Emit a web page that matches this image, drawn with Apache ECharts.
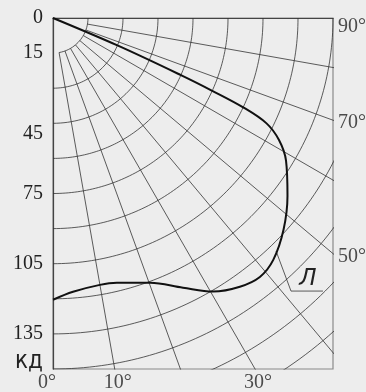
<!DOCTYPE html>
<html>
<head>
<meta charset="utf-8">
<script src="https://cdn.jsdelivr.net/npm/echarts@6/dist/echarts.min.js"></script>
<style>
html, body { margin: 0; padding: 0; background: #ededed; }
#chartDom { width: 366px; height: 392px; }
</style>
</head>
<body>
<div id="chartDom"></div>
<script>
// кривая силы света: угол от вертикали (град) и сила света (кд)
const curveAngles = [68, 67, 66, 65.5, 64.9, 63.8, 61.7, 58.6, 52.9, 47.5, 42.4, 38.7, 34.9, 30.4, 25.8, 20.2, 13.6, 10, 4.2, 0];
const curveValues = [0, 30, 60, 75, 90, 102, 110, 117, 126, 134, 140, 141.8, 140, 135.5, 128, 120.5, 116.4, 115.8, 117.3, 120.4];

// полярная сетка
const circleRadii = [15, 30, 45, 60, 75, 90, 105, 120, 135, 150, 165, 180];
const rayAngles = [10, 20, 30, 40, 50, 60, 70, 80];

// подписи
const yTickLabels = { 0: '0', 15: '15', 45: '45', 75: '75', 105: '105', 135: '135', 150: 'кд' };
const bottomAngles = [0, 10, 30];
const rightAngles = [50, 70, 90];

// выноска "Л"
const leaderX = [95.6, 102, 115.7];
const leaderY = [99.6, 116.7, 116.7];

const X_MAX = 120, Y_MAX = 150;
const rad = (a) => a * Math.PI / 180;
const toXY = (a, r) => [r * Math.sin(rad(a)), r * Math.cos(rad(a))];

const thin = { color: '#333', width: 0.8 };
const serif = 'Liberation Serif';
const fs = 20;

let series = [];

// окружности
circleRadii.forEach((r) => {
  const pts = [];
  const start = r === 15 ? 10 : 0;
  for (let a = start; a <= 90; a += 1) pts.push(toXY(a, r));
  series.push({ type: 'line', data: pts, showSymbol: false, silent: true, clip: true, lineStyle: thin });
});

// лучи
rayAngles.forEach((a) => {
  series.push({ type: 'line', data: [toXY(a, 15), toXY(a, 200)], showSymbol: false, silent: true, clip: true, lineStyle: thin });
});

// кривая
series.push({
  type: 'line',
  data: curveAngles.map((a, i) => toXY(a, curveValues[i])),
  showSymbol: false,
  smooth: 0.35,
  silent: true,
  lineStyle: { color: '#111', width: 2 },
  z: 5
});

// выноска
series.push({
  type: 'line',
  data: leaderX.map((x, i) => {
    const item = { value: [x, leaderY[i]] };
    if (i === leaderX.length - 1) {
      item.label = {
        show: true, position: 'top', offset: [-15, 4], formatter: 'Л',
        fontFamily: 'DejaVu Sans', fontStyle: 'italic', fontSize: 23, color: '#222'
      };
    }
    return item;
  }),
  showSymbol: true,
  symbolSize: 0,
  silent: true,
  lineStyle: { color: '#333', width: 0.8 }
});

// подписи углов снизу
series.push({
  type: 'scatter',
  symbolSize: 0,
  clip: false,
  silent: true,
  data: bottomAngles.map((a) => ({
    value: [Y_MAX * Math.tan(rad(a)), Y_MAX],
    label: { offset: [a === 0 ? -6 : 3, 0] }
  })),
  label: {
    show: true, position: 'bottom', distance: 4,
    formatter: (p) => bottomAngles[p.dataIndex] + '°',
    fontFamily: serif, fontSize: fs, color: '#222'
  }
});

// подписи углов справа
series.push({
  type: 'scatter',
  symbolSize: 0,
  clip: false,
  silent: true,
  data: rightAngles.map((a) => ({
    value: [X_MAX, a === 90 ? 0 : X_MAX / Math.tan(rad(a))],
    label: { offset: [0, a === 90 ? 9 : 3] }
  })),
  label: {
    show: true, position: 'right', distance: 5,
    formatter: (p) => rightAngles[p.dataIndex] + '°',
    fontFamily: serif, fontSize: fs, color: '#222'
  }
});

const chart = echarts.init(document.getElementById('chartDom'));
chart.setOption({
  animation: false,
  backgroundColor: '#ededed',
  grid: {
    left: 53, top: 18, width: 280, height: 351,
    show: true, borderColor: '#8a8a8a', borderWidth: 1.2
  },
  xAxis: {
    type: 'value', min: 0, max: X_MAX, position: 'bottom',
    axisLine: { show: true, lineStyle: { color: '#444', width: 1.2 } },
    axisTick: { show: false }, axisLabel: { show: false }, splitLine: { show: false }
  },
  yAxis: {
    type: 'value', min: 0, max: Y_MAX, interval: 15, inverse: true,
    axisLine: { show: true, lineStyle: { color: '#444', width: 1.2 } },
    axisTick: { show: false }, splitLine: { show: false },
    axisLabel: {
      margin: 10,
      fontFamily: serif, fontSize: fs, color: '#222',
      formatter: (v) => {
        const t = yTickLabels[v];
        if (t === undefined) return '';
        if (v === 150) return '{u|' + t + '}';
        if (v === 45) return '{d|' + t + '}';
        return t;
      },
      rich: {
        u: { fontFamily: 'DejaVu Sans Condensed', fontSize: 24, color: '#222', padding: [0, 0, 14, 0] },
        d: { fontFamily: serif, fontSize: fs, color: '#222', padding: [20, 0, 0, 0] }
      }
    }
  },
  series: series
});
</script>
</body>
</html>
